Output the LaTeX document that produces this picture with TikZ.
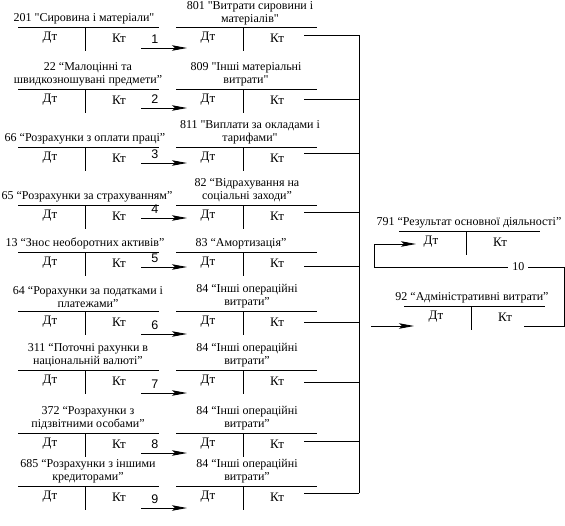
\documentclass[tikz,border=0pt]{standalone}
\usepackage{fontspec}
\newfontfamily\rmf{Liberation Serif}
\newfontfamily\sff{Liberation Sans}
\usetikzlibrary{arrows.meta}
\begin{document}
\begin{tikzpicture}[x=1pt,y=-1pt,
  every node/.style={font=\rmf\fontsize{12}{13}\selectfont, inner sep=0pt},
  head/.style={anchor=south, align=center},
  dk/.style={font=\rmf\fontsize{13}{14}\selectfont},
  ln/.style={line width=0.9pt},
  arr/.style={ln, -{Stealth[length=15pt,width=5.5pt,inset=3pt]}},
  num/.style={font=\sff\fontsize{12.5}{13.5}\selectfont},
  tacc/.pic={\draw[ln] (0,0) -- (141,0); \draw[ln] (67,0) -- (67,24);
    \node[dk] at (32,11) {Дт}; \node[dk] at (101,11) {Кт};}
]
\useasboundingbox (0,0) rectangle (565,525);

% T-accounts, arrows and connectors to the bus
\foreach \n/\y/\ay/\cy in {1/27/48/35, 2/89/108/99, 3/147/163/153, 4/205/218/212,
  5/252/267/266, 6/311/334/322, 7/370/393/382, 8/433/453/441, 9/486/508/493}{
  \pic at (18,\y) {tacc};
  \pic at (176,\y) {tacc};
  \coordinate (as\n) at (141,\ay);
  \coordinate (ae\n) at (187,\ay);
  \draw[arr] (as\n) -- node[num, pos=0.3, above=4pt] {\n} (ae\n);
  \coordinate (c\n) at (304,\cy);
  \coordinate (b\n) at (359,\cy);
  \draw[ln] (c\n) -- (b\n);
}
\draw[ln] (b1) -- (b9);

% headings, left column
\node[head] (l1) at (84,24) {201 "Сировина і матеріали"};
\node[head] (l2) at (88,86) {22 “Малоцінні та\\швидкозношувані предмети”};
\node[head] (l3) at (85,144) {66 “Розрахунки з оплати праці”};
\node[head] (l4) at (87,202) {65 “Розрахунки за страхуванням”};
\node[head] (l5) at (85,249) {13 “Знос необоротних активів”};
\node[head] (l6) at (88,308) {64 “Рорахунки за податками і\\платежами”};
\node[head] (l7) at (88,367) {311 “Поточні рахунки в\\національній валюті”};
\node[head] (l8) at (88,430) {372 “Розрахунки з\\підзвітними особами”};
\node[head] (l9) at (88,483) {685 “Розрахунки з іншими\\кредиторами”};

% headings, right column
\node[head] (r1) at (250,25) {801 "Витрати сировини і\\матеріалів"};
\node[head] (r2) at (246,86) {809 "Інші матеріальні\\витрати"};
\node[head] (r3) at (250,144) {811 "Виплати за окладами і\\тарифами"};
\node[head] (r4) at (247,202) {82 “Відрахування на\\соціальні заходи”};
\node[head] (r5) at (241,249) {83 “Амортизація”};
\node[head] (r6) at (247,308) {84 “Інші операційні\\витрати”};
\node[head] (r7) at (247,367) {84 “Інші операційні\\витрати”};
\node[head] (r8) at (247,430) {84 “Інші операційні\\витрати”};
\node[head] (r9) at (247,483) {84 “Інші операційні\\витрати”};

% 791 and 92
\pic at (399,231) {tacc};
\node[head] (h791) at (469,228) {791 “Результат основної діяльності”};
\pic at (404,306) {tacc};
\node[head] (h92) at (472,303) {92 “Адміністративні витрати”};

\coordinate (in92s) at (371,326);
\coordinate (in92e) at (414,326);
\draw[arr] (in92s) -- (in92e);

\coordinate (k92) at (524,326);
\coordinate (p1) at (564,326);
\coordinate (p2) at (564,267);
\coordinate (p3) at (374,267);
\coordinate (p4) at (374,244);
\coordinate (d791) at (416,244);
\draw[arr] (k92) -- (p1) -- (p2) -- node[pos=0.24, fill=white, inner xsep=4pt, inner ysep=1pt] {10} (p3) -- (p4) -- (d791);
\end{tikzpicture}
\end{document}
